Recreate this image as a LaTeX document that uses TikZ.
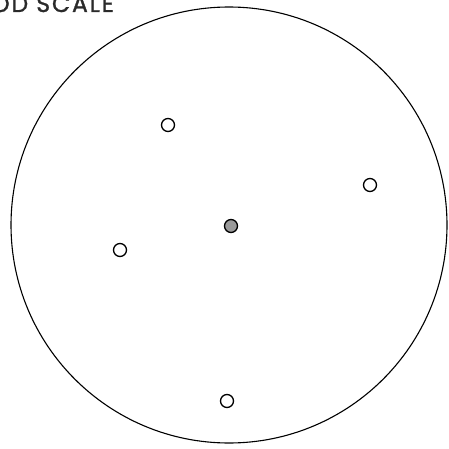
\documentclass[tikz,border=0pt]{standalone}
\usepackage{fontspec}
\newfontfamily\titlefont[LetterSpace=8,FakeBold=1.2]{Poppins}
\definecolor{titlegray}{HTML}{2A2A2A}
\definecolor{dotgray}{HTML}{9A9A9A}
\tikzset{
  bigring/.style={draw=black, line width=1.1pt},
  site/.style={circle, draw=black, line width=1.3pt, fill=white, minimum size=13pt, inner sep=0pt},
  centersite/.style={site, fill=dotgray},
  titletext/.style={anchor=base west, inner sep=0pt, text=titlegray, font=\titlefont\fontsize{23.5}{23.5}\selectfont}
}
\begin{document}
\begin{tikzpicture}[x=1pt,y=-1pt]
\useasboundingbox (0,0) rectangle (448,449);
\fill[white] (0,0) rectangle (448,449);
\draw[bigring] (229,225) circle (218);
\node[titletext] (title) at (-9,12) {OD SCALE};
\node[site] (n1) at (168,125) {};
\node[site] (n2) at (370,185) {};
\node[centersite] (c) at (231,226) {};
\node[site] (n3) at (120,250) {};
\node[site] (n4) at (227,401) {};
\end{tikzpicture}
\end{document}
